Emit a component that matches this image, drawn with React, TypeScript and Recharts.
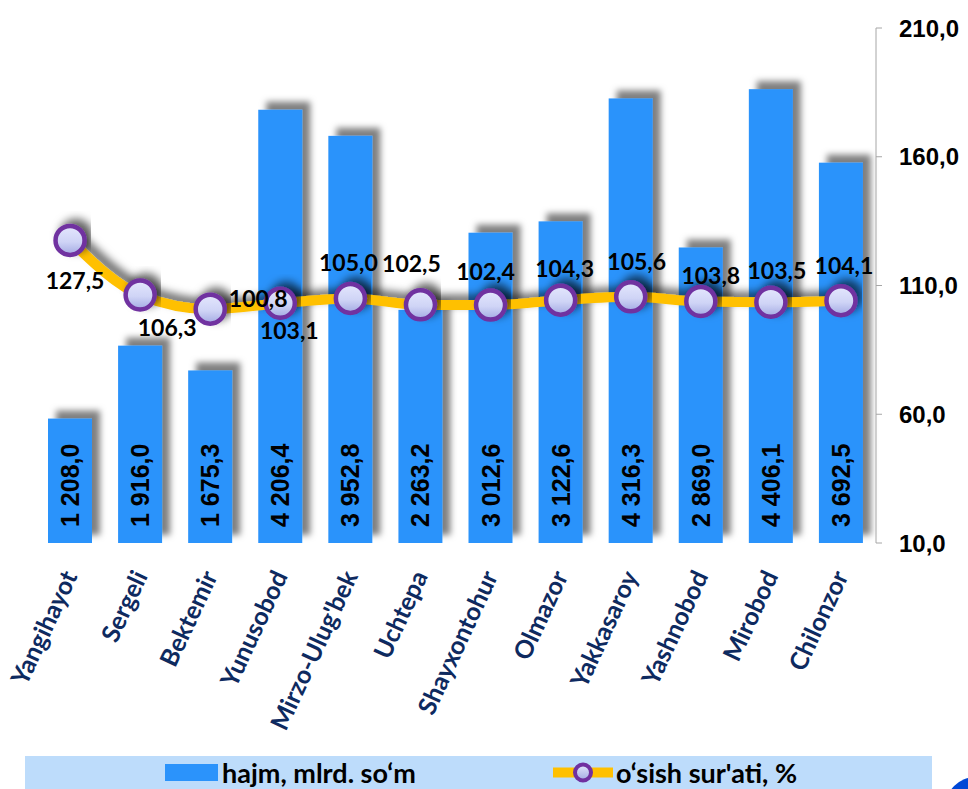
import React from "react";
import {
  ComposedChart,
  Bar,
  Line,
  XAxis,
  YAxis,
  Legend,
  LabelList,
} from "recharts";

const tumanlar = [
  "Yangihayot",
  "Sergeli",
  "Bektemir",
  "Yunusobod",
  "Mirzo-Ulug'bek",
  "Uchtepa",
  "Shayxontohur",
  "Olmazor",
  "Yakkasaroy",
  "Yashnobod",
  "Mirobod",
  "Chilonzor",
];
const hajm = [1208.0, 1916.0, 1675.3, 4206.4, 3952.8, 2263.2, 3012.6, 3122.6, 4316.3, 2869.0, 4406.1, 3692.5];
const osish = [127.5, 106.3, 100.8, 103.1, 105.0, 102.5, 102.4, 104.3, 105.6, 103.8, 103.5, 104.1];
const rightTicks = [10, 60, 110, 160, 210];

const dados = tumanlar.map((nom, i) => ({ nom, hajm: hajm[i], osish: osish[i] }));

// label offsets around each line point (dx, dy)
const labelShift: [number, number][] = [
  [5, 40],
  [27, 32],
  [48, -11],
  [9, 27],
  [-2, -36],
  [-9, -42],
  [-5, -34],
  [4, -32],
  [6, -36],
  [10, -26],
  [6, -32],
  [3, -36],
];

const BAR_BLUE = "#2b93fb";
const NAVY = "#0e2a5f";
const NUM_FONT = "'Liberation Sans', Arial, sans-serif";
const TXT_FONT = "Lato, 'Open Sans', sans-serif";

const fmt1 = (v: number) => {
  const [i, d] = v.toFixed(1).split(".");
  return i.replace(/\B(?=(\d{3})+(?!\d))/g, " ") + "," + d;
};

const ShadowBar = (props: any) => {
  const { x, y, width, height } = props;
  return (
    <rect x={x} y={y} width={width} height={height} fill={BAR_BLUE} filter="url(#barShadow)" />
  );
};

const BarValue = (props: any) => {
  const { x, y, width, height, value } = props;
  const cx = x + width / 2;
  const by = y + height - 16;
  return (
    <text
      x={cx}
      y={by}
      transform={`rotate(-90 ${cx} ${by})`}
      textAnchor="start"
      dominantBaseline="central"
      fill="#000"
      fontFamily={NUM_FONT}
      fontWeight={700}
      fontSize={25}
    >
      {fmt1(value)}
    </text>
  );
};

const LineValue = (props: any) => {
  const { x, y, value, index } = props;
  const [dx, dy] = labelShift[index] || [0, -34];
  return (
    <text
      x={x + dx}
      y={y + dy}
      textAnchor="middle"
      dominantBaseline="central"
      fill="#000"
      fontFamily={TXT_FONT}
      fontWeight={700}
      fontSize={23}
    >
      {fmt1(value)}
    </text>
  );
};

const Ponto = (props: any) => {
  const { cx, cy, index } = props;
  return (
    <circle
      key={`dot-${index}`}
      cx={cx}
      cy={cy}
      r={14.5}
      fill="url(#dotGrad)"
      stroke="#7030a0"
      strokeWidth={4.5}
      filter="url(#lineShadow)"
    />
  );
};

const TickTuman = (props: any) => {
  const { x, y, payload } = props;
  return (
    <text
      x={0}
      y={0}
      transform={`translate(${x + 8},${y + 25}) rotate(-65)`}
      textAnchor="end"
      fill={NAVY}
      fontFamily={TXT_FONT}
      fontWeight={700}
      fontSize={25}
    >
      {payload.value}
    </text>
  );
};

const Legenda = () => (
  <div
    style={{
      position: "relative",
      width: 907,
      height: 33,
      background: "#bddcfb",
      fontFamily: TXT_FONT,
      fontWeight: 700,
      fontSize: 27,
      color: "#000",
    }}
  >
    <div style={{ position: "absolute", left: 140, top: 8, width: 53, height: 17, background: BAR_BLUE }} />
    <span style={{ position: "absolute", left: 197, top: 1, lineHeight: "31px", whiteSpace: "nowrap" }}>
      hajm, mlrd. so‘m
    </span>
    <svg style={{ position: "absolute", left: 526, top: 0 }} width={64} height={33}>
      <line x1={2} y1={16.5} x2={62} y2={16.5} stroke="#ffc000" strokeWidth={10} />
      <circle cx={32} cy={16.5} r={8} fill="url(#dotGradLeg)" stroke="#7030a0" strokeWidth={4} />
      <defs>
        <linearGradient id="dotGradLeg" x1="0" y1="0" x2="0" y2="1">
          <stop offset="0%" stopColor="#e4e7fd" />
          <stop offset="100%" stopColor="#a2a9e2" />
        </linearGradient>
      </defs>
    </svg>
    <span style={{ position: "absolute", left: 591, top: 1, lineHeight: "31px", whiteSpace: "nowrap" }}>
      o‘sish sur'ati, %
    </span>
  </div>
);

export default function App() {
  return (
    <div
      style={{
        position: "absolute",
        left: 0,
        top: 0,
        width: 968,
        height: 789,
        background: "#fff",
        overflow: "hidden",
      }}
    >
      <style>{`.recharts-line-curve{filter:url(#lineShadow);}`}</style>
      <ComposedChart
        width={968}
        height={789}
        data={dados}
        margin={{ top: 28, right: 0, left: 35, bottom: 46 }}
        barCategoryGap="37%"
      >
        <defs>
          <filter id="barShadow" x="-40%" y="-20%" width="180%" height="140%">
            <feDropShadow dx="8" dy="-8" stdDeviation="3" floodColor="#000" floodOpacity="0.5" />
          </filter>
          <filter id="lineShadow" x="-20%" y="-50%" width="140%" height="200%">
            <feDropShadow dx="6" dy="-5" stdDeviation="4" floodColor="#000" floodOpacity="0.6" />
          </filter>
          <linearGradient id="dotGrad" x1="0" y1="0" x2="0" y2="1">
            <stop offset="0%" stopColor="#e4e7fd" />
            <stop offset="55%" stopColor="#cfd4f6" />
            <stop offset="100%" stopColor="#a2a9e2" />
          </linearGradient>
        </defs>
        <XAxis
          dataKey="nom"
          height={200}
          axisLine={false}
          tickLine={false}
          interval={0}
          tick={<TickTuman />}
        />
        <YAxis yAxisId="hajm" hide domain={[0, 5000]} />
        <YAxis
          yAxisId="osish"
          orientation="right"
          width={92}
          domain={[10, 210]}
          ticks={rightTicks}
          tickFormatter={(v: number) => fmt1(v)}
          axisLine={{ stroke: "#a6a6a6" }}
          tickLine={{ stroke: "#a6a6a6" }}
          tickSize={6}
          tickMargin={17}
          tick={{ fill: "#000", fontSize: 24, fontWeight: 700, fontFamily: NUM_FONT }}
        />
        <Bar
          yAxisId="hajm"
          dataKey="hajm"
          name="hajm, mlrd. so‘m"
          fill={BAR_BLUE}
          barSize={44}
          shape={<ShadowBar />}
          isAnimationActive={false}
        >
          <LabelList dataKey="hajm" content={<BarValue />} />
        </Bar>
        <Line
          yAxisId="osish"
          dataKey="osish"
          name="o‘sish sur'ati, %"
          type="monotone"
          stroke="#ffc000"
          strokeWidth={10}
          dot={<Ponto />}
          activeDot={false}
          isAnimationActive={false}
        >
          <LabelList dataKey="osish" content={<LineValue />} />
        </Line>
        <Legend
          verticalAlign="middle"
          align="center"
          layout="horizontal"
          wrapperStyle={{ left: 25, top: 756, width: 907, height: 33 }}
          content={() => <Legenda />}
        />
      </ComposedChart>
      <div
        style={{
          position: "absolute",
          left: 945,
          top: 777,
          width: 62,
          height: 62,
          borderRadius: "50%",
          background: "#0047d6",
        }}
      />
    </div>
  );
}
